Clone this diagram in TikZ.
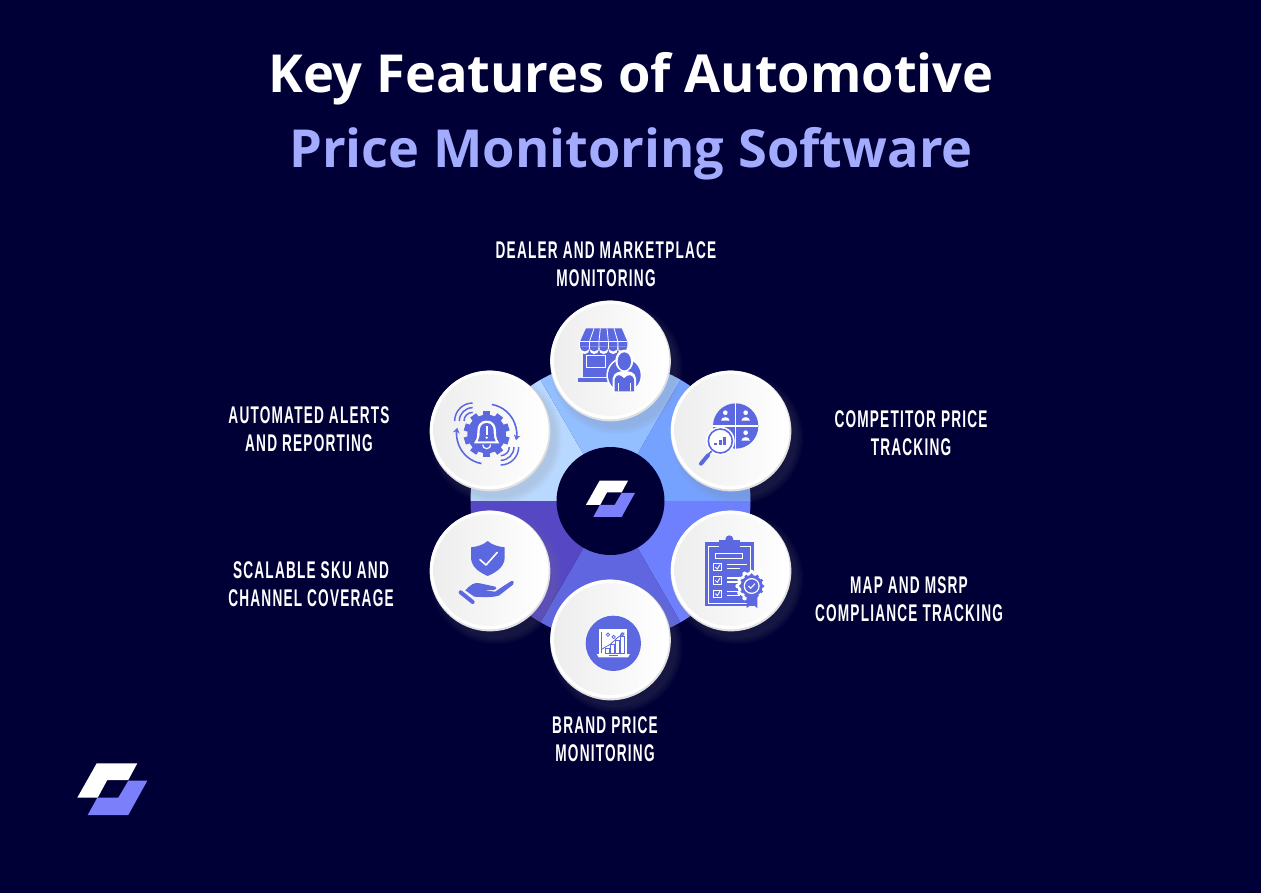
\documentclass[tikz,border=0pt]{standalone}
\usepackage{fontspec}
\usetikzlibrary{arrows.meta}
\setmainfont{Open Sans}
\newfontfamily\labelfont[FakeStretch=0.565,LetterSpace=5]{Liberation Sans}
\definecolor{bgnavy}{HTML}{000037}
\definecolor{titleblue}{HTML}{A3ABFF}
\definecolor{iconblue}{HTML}{5C68DF}
\definecolor{logoblue}{HTML}{7B80FA}
\definecolor{wedgeA}{HTML}{B9D8FF}
\definecolor{wedgeB}{HTML}{93BEFF}
\definecolor{wedgeC}{HTML}{76A2FF}
\definecolor{wedgeD}{HTML}{6F80FF}
\definecolor{wedgeE}{HTML}{5F66E0}
\definecolor{wedgeF}{HTML}{5647C4}
\tikzset{
  titletext/.style={font=\fontsize{39.3}{47}\selectfont\bfseries},
  featuretext/.style={text=white,align=center,font=\labelfont\fontsize{18.1}{21.2}\selectfont\bfseries},
  featurebase/.style={circle,fill=black!12,minimum size=90.5pt,inner sep=0pt},
  featureface/.style={circle,fill=white,minimum size=89pt,inner sep=0pt},
  featureshade/.style={circle,left color=black!7,right color=white,minimum size=84pt,inner sep=0pt},
  whiteline/.style={draw=white,line width=0.9pt},
  logomark/.pic={
    \fill[white] (19.4,0) -- (60,0) -- (51,16.7) -- (30,16.7) -- (20.4,34.4) -- (0,34.4) -- cycle;
    \fill[logoblue] (51,17.4) -- (70,17.4) -- (51,51.7) -- (10.4,51.7) -- (20,34.4) -- (41,34.4) -- cycle;
  }
}
\begin{document}
\begin{tikzpicture}[x=0.75pt,y=-0.75pt]
  \useasboundingbox (0,0) rectangle (1261,893);
  \fill[bgnavy] (0,0) rectangle (1261,893);

  % Title
  \node[titletext,text=white] (titleA) at (631,79) {Key Features of Automotive};
  \node[titletext,text=titleblue] (titleB) at (631,154) {Price Monitoring Software};

  % Wedges
  \coordinate (hub) at (610.5,501);
  \foreach \a/\c in {180/wedgeA,240/wedgeB,300/wedgeC,0/wedgeD,60/wedgeE,120/wedgeF}
    \fill[\c] (hub) -- +(\a:140) arc[start angle=\a,delta angle=60,radius=140] -- cycle;
  \node[circle,fill=bgnavy,minimum size=81pt,inner sep=0pt] (hubdisc) at (hub) {};
  \pic at (586,480.7) [scale=0.7] {logomark};

  % Circles
  \foreach \n/\x/\y in {store/610.5/361,alerts/490/431,rival/731/431,scale/490/571,map/731/571,brand/610.5/640} {
    \foreach \r in {66,64,62,60}
      \fill[gray,opacity=0.05] (\x+6,\y+7) circle (\r);
    \node[featurebase] (\n) at (\x,\y) {};
    \node[featureface] at (\x-0.6,\y-1) {};
    \node[featureshade] at (\x-0.6,\y-1) {};
  }

  % Store
  \begin{scope}[shift={(420,290)},scale=1/3]
    \fill[iconblue] (490,178) rectangle (600,262);
    \fill[white] (478,150) rectangle (624,178);
    \foreach \i in {0,1,2,3,4}
      \fill[white] (480+\i*28.4,178) arc[start angle=180,delta angle=-180,radius=14.2] -- cycle;
    \fill[iconblue] (498,115) -- (605,115) -- (622,155) -- (622,170) -- (480,170) -- (480,155) -- cycle;
    \foreach \i in {0,1,2,3,4}
      \fill[iconblue] (480+\i*28.4,170) arc[start angle=180,delta angle=-180,radius=14.2] -- cycle;
    \foreach \p/\q in {522/508.4,541/536.8,561/565.2,582/593.6}
      \draw[whiteline,line width=0.6pt] (\p,115) -- (\q,155) -- (\q,176);
    \draw[whiteline,line width=0.6pt] (480,155) -- (622,155);
    \draw[whiteline] (500,197) rectangle (556,233);
    \fill[iconblue] (473,264) rectangle (572,275);
    \fill[white] (613,256) circle (54);
    \fill[iconblue] (613,256) circle (49);
    \fill[white] (613,212) ellipse (27 and 33);
    \fill[iconblue] (613,214) ellipse (20 and 27);
    \fill[white] (578,308) -- (578,265) .. controls (582,245) and (600,244) .. (613,243) .. controls (630,244) and (645,245) .. (648,265) -- (648,308) -- cycle;
    \fill[iconblue] (584,304) -- (584,268) .. controls (588,254) and (600,250) .. (612,265) .. controls (625,250) and (638,254) .. (642,268) -- (642,304) -- cycle;
    \draw[whiteline,line width=0.5pt] (596,280) -- (596,304) (630,280) -- (630,304);
  \end{scope}

  % Gear and bell
  \begin{scope}[shift={(420,290)},scale=1/3]
    \coordinate (gear) at (200,432);
    \foreach \a in {0,36,...,324}
      \fill[iconblue,shift={(gear)},rotate=\a] (-11,-69) rectangle (11,0);
    \fill[iconblue] (gear) circle (58);
    \fill[white] (200,392) .. controls (178,392) and (172,408) .. (172,425) .. controls (172,445) and (168,452) .. (162,460) -- (238,460) .. controls (232,452) and (228,445) .. (228,425) .. controls (228,408) and (222,392) .. (200,392) -- cycle;
    \fill[iconblue] (200,399) .. controls (184,399) and (179,412) .. (179,425) .. controls (179,440) and (177,448) .. (173,454) -- (227,454) .. controls (223,448) and (221,440) .. (221,425) .. controls (221,412) and (216,399) .. (200,399) -- cycle;
    \fill[white] (197,408) rectangle (203,434);
    \fill[white] (200,443) circle (4);
    \draw[whiteline] (188,464) arc[start angle=180,delta angle=-180,radius=12];
    \draw[iconblue,line width=1.2pt,-{Stealth[length=4pt,width=5pt]}] (gear) +(-80:90) arc[start angle=-80,delta angle=92,radius=90];
    \draw[iconblue,line width=1.2pt,-{Stealth[length=4pt,width=5pt]}] (gear) +(100:90) arc[start angle=100,delta angle=92,radius=90];
    \foreach \r in {26,40,54}
      \draw[iconblue,line width=1.1pt] (158,393) +(180:\r) arc[start angle=180,delta angle=90,radius=\r];
    \foreach \r in {26,40,54}
      \draw[iconblue,line width=1.1pt] (242,471) +(0:\r) arc[start angle=0,delta angle=90,radius=\r];
  \end{scope}

  % Pie and magnifier
  \begin{scope}[shift={(420,290)},scale=1/3]
    \fill[iconblue] (947,408) circle (68);
    \draw[whiteline] (947,340) -- (947,476) (879,408) -- (1015,408);
    \foreach \x/\y in {916/378,977/378,977/438} {
      \fill[white] (\x,\y-10) circle (7);
      \fill[white] (\x-13,\y+14) .. controls (\x-12,\y) and (\x+12,\y) .. (\x+13,\y+14) -- cycle;
    }
    \fill[white] (901,453) circle (43);
    \draw[iconblue,line width=1.2pt] (901,453) circle (36);
    \foreach \x/\h in {882/8,896/15,910/24}
      \fill[iconblue] (\x,466) rectangle (\x+9,466-\h);
    \draw[iconblue,line width=1.2pt] (875,483) -- (862,497);
    \draw[iconblue,line width=3pt,line cap=round] (864,496) -- (843,521);
  \end{scope}

  % Shield and hand
  \begin{scope}[shift={(420,490)},scale=1/3]
    \fill[iconblue] (203,153) .. controls (190,165) and (170,170) .. (153,172) -- (153,205) .. controls (155,235) and (185,250) .. (203,258) .. controls (221,250) and (252,235) .. (254,205) -- (254,172) .. controls (236,170) and (216,165) .. (203,153) -- cycle;
    \draw[white,line width=1.2pt,line cap=round,line join=round] (180,209) -- (198,225) -- (232,187);
    \fill[iconblue] (136,301) .. controls (150,285) and (165,275) .. (180,280) -- (226,290) .. controls (232,293) and (230,299) .. (222,300) -- (192,301) -- (225,305) -- (272,274) .. controls (280,270) and (285,278) .. (280,283) -- (238,316) .. controls (225,322) and (195,322) .. (163,320) -- cycle;
    \draw[iconblue,line width=3pt,line cap=round] (122,307) -- (158,336);
  \end{scope}

  % Clipboard
  \begin{scope}[shift={(420,490)},scale=1/3]
    \fill[iconblue] (855,157) rectangle (1001,349);
    \draw[whiteline,line width=0.7pt] (864,168) rectangle (991,339);
    \fill[iconblue] (897,150) rectangle (960,175);
    \fill[iconblue] (928,148) circle (12);
    \draw[whiteline,line width=0.7pt] (887,191) rectangle (968,205);
    \foreach \y in {231,271,311} {
      \draw[whiteline,line width=0.7pt] (881,\y-11) rectangle (904,\y+11);
      \draw[white,line width=0.7pt] (886,\y) -- (892,\y+6) -- (900,\y-7);
      \draw[whiteline,line width=0.8pt] (922,\y-7) -- (980,\y-7) (922,\y+5) -- (960,\y+5);
    }
    \foreach \a in {0,30,...,330}
      \fill[white] (995,288) +(\a:42) circle (7);
    \fill[white] (995,288) circle (42);
    \fill[iconblue] (980,315) -- (1012,315) -- (1012,354) -- (996,342) -- (980,354) -- cycle;
    \foreach \a in {0,30,...,330}
      \fill[iconblue] (995,288) +(\a:33) circle (5.5);
    \fill[iconblue] (995,288) circle (33);
    \fill[white] (995,288) circle (24);
    \fill[iconblue] (995,288) circle (20);
    \draw[white,line width=0.8pt] (985,288) -- (992,295) -- (1005,281);
  \end{scope}

  % Laptop chart
  \begin{scope}[shift={(420,490)},scale=1/3]
    \fill[iconblue] (580,460) circle (83);
    \fill[white] (537,418) rectangle (622,492);
    \fill[white] (530,492) -- (630,492) -- (624,502) -- (536,502) -- cycle;
    \draw[iconblue,line width=0.5pt] (566,495) -- (594,495);
    \foreach \x/\h in {556/14,572/27,587/40,602/50}
      \draw[iconblue,line width=0.5pt] (\x,490) rectangle (\x+12,490-\h);
    \draw[iconblue,line width=0.6pt] (545,478) -- (572,462) -- (590,445) -- (613,428);
    \foreach \x/\y in {564/434,581/441,607/433}
      \draw[iconblue,line width=0.6pt] (\x,\y) circle (5);
    \draw[iconblue,line width=0.5pt] (545,425) -- (545,488);
  \end{scope}

  % Labels
  \node[featuretext] (storetext) at (606,264) {DEALER AND MARKETPLACE\\MONITORING};
  \node[featuretext] (alertstext) at (309,429) {AUTOMATED ALERTS\\AND REPORTING};
  \node[featuretext] (rivaltext) at (911,433) {COMPETITOR PRICE\\TRACKING};
  \node[featuretext] (scaletext) at (311,584) {SCALABLE SKU AND\\CHANNEL COVERAGE};
  \node[featuretext] (maptext) at (909,599) {MAP AND MSRP\\COMPLIANCE TRACKING};
  \node[featuretext] (brandtext) at (605,739) {BRAND PRICE\\MONITORING};

  % Corner logo
  \pic at (77.3,763.3) {logomark};
\end{tikzpicture}
\end{document}
